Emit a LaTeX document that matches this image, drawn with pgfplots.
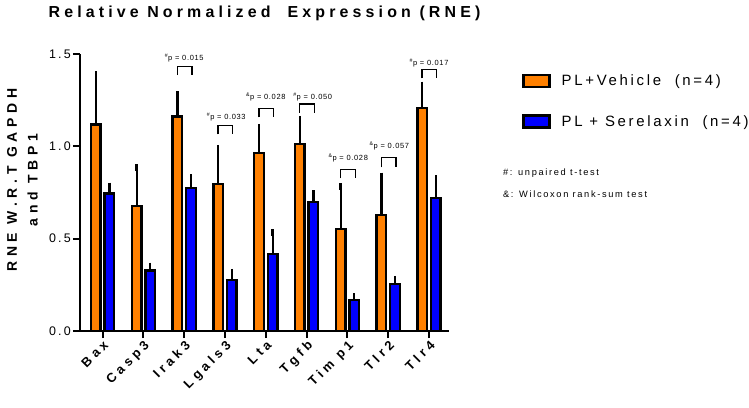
\documentclass[border=0pt]{standalone}
\usepackage{pgfplots}
\pgfplotsset{compat=1.18}
\usepackage{fontspec}
\setmainfont{Liberation Sans}
\newfontfamily\lsp[LetterSpace=18]{Liberation Sans}
\newfontfamily\lspa[LetterSpace=9]{Liberation Sans}
\newfontfamily\lspb[LetterSpace=30]{Liberation Sans}
\newfontfamily\lspt[LetterSpace=26]{Liberation Sans}
\newfontfamily\lspy[LetterSpace=34]{Liberation Sans}
\definecolor{orng}{RGB}{255,128,0}
\definecolor{blu}{RGB}{0,0,255}
\pgfplotstableread{
x y e
0 1.119 0.269
1 0.678 0.206
2 1.162 0.117
3 0.796 0.193
4 0.964 0.139
5 1.014 0.132
6 0.551 0.230
7 0.628 0.211
8 1.209 0.123
}\vehicle
\pgfplotstableread{
x y e
0 0.745 0.040
1 0.327 0.025
2 0.773 0.057
3 0.276 0.042
4 0.417 0.115
5 0.697 0.045
6 0.168 0.018
7 0.253 0.027
8 0.720 0.105
}\serelaxin
\newcommand{\pbr}[6]{%
  \draw[line width=1.3bp] (axis cs:#1-0.17,#4) -- (axis cs:#1-0.17,#3) -- (axis cs:#1+0.19,#3) -- (axis cs:#1+0.19,#4);
  \node[font=\lspa\fontsize{7.5}{9}\selectfont, inner sep=0pt] at (axis cs:#1+#6,#2) {#5};
}
\pgfplotsset{
  errb/.style={
    /pgfplots/error bars/y dir=plus,
    /pgfplots/error bars/y explicit,
    /pgfplots/error bars/error bar style={line width=2.2bp, black},
    /pgfplots/error bars/error mark options={line width=2.4bp, mark size=3.5bp, black},
  },
}
\begin{document}
\begin{tikzpicture}
\path[use as bounding box] (0,0) rectangle (749bp,-408bp);
\begin{axis}[
  at={(80bp,-331bp)}, anchor=south west,
  scale only axis, width=369bp, height=277bp,
  xmin=-0.555, xmax=8.49, ymin=0, ymax=1.5,
  clip=false,
  axis lines*=left,
  axis line style={line width=2bp, black},
  tick style={line width=2bp, black},
  major tick length=7bp, tick align=outside,
  ytick={0,0.5,1,1.5},
  yticklabel style={font=\lsp\fontsize{12.5}{14}\selectfont, inner sep=2bp, /pgf/number format/.cd, fixed, fixed zerofill, precision=1, assume math mode=true},
  xtick={0,...,8},
  xticklabels={Bax,Casp3,Irak3,Lgals3,Lta,Tgfb,Tim p1,Tlr2,Tlr4},
  xticklabel style={rotate=45, anchor=north east, font=\lspb\bfseries\fontsize{13}{15}\selectfont, inner sep=1bp},
  ybar=4.1bp, bar width=9.5bp,
  title={Relative Normalized\ \ Expression (RNE)},
  title style={font=\lspt\bfseries\fontsize{16}{18}\selectfont, at={(axis description cs:0.5,1)}, anchor=center, yshift=35bp},
  ylabel={RNE W.R.T GAPDH\\and TBP1},
  ylabel style={font=\lspy\bfseries\fontsize{14}{21}\selectfont, align=center, at={(axis description cs:-0.156,0.545)}, anchor=center},
  legend style={draw=none, fill=none, at={(1.19,0.936)}, anchor=north west,
    font=\lsp\fontsize{15}{18}\selectfont, row sep=26bp,
    nodes={inner sep=0pt, anchor=west}},
  legend image code/.code={\draw[#1, draw=black, line width=2.4bp] (0bp,-6bp) rectangle (26bp,6bp); \path (37bp,0bp);},
]
\addplot[errb, fill=orng, draw=black, line width=2.4bp]
  table[x=x, y=y, y error=e] {\vehicle};
\addplot[errb, fill=blu, draw=black, line width=2.4bp]
  table[x=x, y=y, y error=e] {\serelaxin};
\legend{PL+Vehicle\ \ (n=4), PL + Serelaxin\ \ (n=4)}
\pbr{2}{1.478}{1.431}{1.386}{\textsuperscript{\#}p = 0.015}{0}
\pbr{3}{1.160}{1.112}{1.065}{\textsuperscript{\#}p = 0.033}{0.03}
\pbr{4}{1.265}{1.206}{1.157}{\textsuperscript{\&}p = 0.028}{0}
\pbr{5}{1.268}{1.229}{1.182}{\textsuperscript{\#}p = 0.050}{0.15}
\pbr{6}{0.935}{0.875}{0.827}{\textsuperscript{\&}p = 0.028}{0.02}
\pbr{7}{1.000}{0.940}{0.886}{\textsuperscript{\&}p = 0.057}{0.03}
\pbr{8}{1.453}{1.417}{1.368}{\textsuperscript{\#}p = 0.017}{0}
\node[anchor=west, inner sep=0pt, font=\lsp\fontsize{9.3}{11}\selectfont] at (axis description cs:1.146,0.569) {\#: unpaired t-test};
\node[anchor=west, inner sep=0pt, font=\lsp\fontsize{9.3}{11}\selectfont] at (axis description cs:1.146,0.495) {\&: Wilcoxon rank-sum test};
\end{axis}
\end{tikzpicture}
\end{document}
